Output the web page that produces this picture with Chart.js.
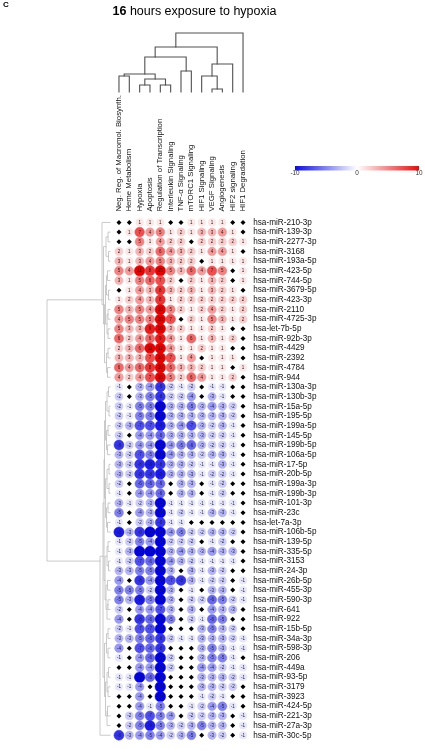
<!DOCTYPE html>
<html>
<head>
<meta charset="utf-8">
<script src="https://cdn.jsdelivr.net/npm/chart.js@4.4.0/dist/chart.umd.min.js"></script>
<style>
html, body { margin: 0; padding: 0; background: #fff; }
#wadah { position: relative; width: 426px; height: 750px; }
#grafik { position: absolute; left: 0; top: 0; }
#panel { position: absolute; left: 3px; top: 1px; font: bold 8px/8px "Liberation Sans", Arial, sans-serif; }
#judul { position: absolute; left: 0; width: 389px; top: 4px; text-align: center; font: 12.5px/14px "Liberation Sans", Arial, sans-serif; }
</style>
</head>
<body>
<div id="wadah">
  <canvas id="grafik" width="426" height="750"></canvas>
  <div id="panel">C</div>
  <div id="judul"><b>16</b> hours exposure to hypoxia</div>
</div>
<script>
const colLabels = ['Neg. Reg. of Macromol. Biosynth.', 'Heme Metabolism', 'Hypoxia', 'Apoptosis',
  'Regulation of Transcription', 'Interleukin Signaling', 'TNF-\u03b1 Signaling', 'mTORC1 Signaling',
  'HIF1 Signaling', 'VEGF Signaling', 'Angiogenesis', 'HIF2 signaling', 'HIF1 Degradation'];

const rowLabels = ['hsa-miR-210-3p', 'hsa-miR-139-3p', 'hsa-miR-2277-3p', 'hsa-miR-3168', 'hsa-miR-193a-5p',
  'hsa-miR-423-5p', 'hsa-miR-744-5p', 'hsa-miR-3679-5p', 'hsa-miR-423-3p', 'hsa-miR-2110', 'hsa-miR-4725-3p',
  'hsa-let-7b-5p', 'hsa-miR-92b-3p', 'hsa-miR-4429', 'hsa-miR-2392', 'hsa-miR-4784', 'hsa-miR-944',
  'hsa-miR-130a-3p', 'hsa-miR-130b-3p', 'hsa-miR-15a-5p', 'hsa-miR-195-5p', 'hsa-miR-199a-5p', 'hsa-miR-145-5p',
  'hsa-miR-199b-5p', 'hsa-miR-106a-5p', 'hsa-miR-17-5p', 'hsa-miR-20b-5p', 'hsa-miR-199a-3p', 'hsa-miR-199b-3p',
  'hsa-miR-101-3p', 'hsa-miR-23c', 'hsa-let-7a-3p', 'hsa-miR-106b-5p', 'hsa-miR-139-5p', 'hsa-miR-335-5p',
  'hsa-miR-3153', 'hsa-miR-24-3p', 'hsa-miR-26b-5p', 'hsa-miR-455-3p', 'hsa-miR-590-3p', 'hsa-miR-641',
  'hsa-miR-922', 'hsa-miR-15b-5p', 'hsa-miR-34a-3p', 'hsa-miR-598-3p', 'hsa-miR-206', 'hsa-miR-449a',
  'hsa-miR-93-5p', 'hsa-miR-3179', 'hsa-miR-3923', 'hsa-miR-424-5p', 'hsa-miR-221-3p', 'hsa-miR-27a-3p',
  'hsa-miR-30c-5p'];

// null = no value (black diamond)
const N = null;
const nilai = [
  [N, N, 1, 1, 1, N, N, 1, 1, 1, 1, N, N],
  [N, 1, 7, 4, 5, 1, 2, 1, 3, 3, 4, 1, N],
  [N, N, 5, 1, 4, 2, 2, N, 2, 2, 2, 2, 1],
  [2, 1, 3, 2, 6, 4, 3, 2, 1, 4, 4, 1, N],
  [3, 1, 3, 4, 5, 3, 2, 2, N, 1, 1, 1, 1],
  [5, 4, 11, 8, 15, 5, 3, 6, 4, 7, 5, N, 1],
  [3, 1, 5, 6, 7, 2, N, 2, 1, 3, 2, N, 1],
  [N, 1, 4, 3, 8, 3, 2, 3, 1, 3, 2, 1, N],
  [1, 2, 4, 3, 8, 1, 2, 2, 2, 2, 2, 2, 2],
  [5, 3, 5, 4, 10, 5, 2, 1, 2, 4, 2, 1, 2],
  [4, 5, 5, 5, 20, 7, N, 2, 1, 5, 3, 1, 2],
  [5, 3, 3, 9, 10, 3, 2, 1, 1, 2, 1, N, N],
  [6, 2, 4, 6, 9, 4, 1, 6, 1, 3, 1, 2, N],
  [2, 3, 6, 11, 12, 4, 1, 1, 2, 1, 1, N, N],
  [3, 3, 3, 7, 10, 7, 1, 4, N, 1, 1, 1, N],
  [6, 4, 6, 8, 20, 6, 3, 3, 2, 1, 1, N, 1],
  [4, 2, 4, 7, 10, 5, 2, 6, 4, 1, 1, 2, N],
  [-1, N, -3, -4, -8, -2, -1, -2, N, -1, -1, N, N],
  [-2, N, -3, -5, -8, -2, -2, -4, N, -3, -1, N, N],
  [-2, -1, -5, -5, -10, -3, -3, -5, -3, -4, -3, -2, N],
  [-2, -1, -5, -5, -10, -3, -3, -3, -3, -3, -3, -2, N],
  [-2, -3, -7, -7, -9, -3, -4, -7, -3, -2, -3, -1, N],
  [-2, N, -4, -4, -6, -3, -3, -3, -3, -2, -2, -1, N],
  [-8, -2, -4, -4, -10, -4, -5, -6, -3, -2, -2, -1, N],
  [-3, -2, -7, -5, -10, -4, -3, -3, -2, -3, -3, -1, N],
  [-3, -2, -8, -9, -8, -3, -3, -2, -1, -1, -3, -1, N],
  [-3, -2, -8, -8, -9, -3, -3, -3, -1, -2, -2, -1, N],
  [-2, N, -6, -6, -6, N, -3, -3, N, -1, -2, N, N],
  [-1, N, -4, -4, -6, N, -3, -3, N, -1, -2, N, N],
  [-3, -1, -2, -3, -10, -1, -1, -1, -1, -1, -1, -1, N],
  [-5, N, -4, -3, -10, -1, -2, -1, -1, -3, -3, -1, N],
  [-1, N, -2, -3, -8, -1, -1, N, N, N, N, N, N],
  [-9, -3, -8, -10, -10, -4, -5, -2, -2, -3, -3, -2, N],
  [-1, -2, -5, -4, -10, -2, -2, -2, N, -1, -2, N, N],
  [-1, -3, -10, -10, -10, -3, -4, -3, -3, -4, -3, -3, N],
  [-1, -2, -7, -6, -10, -4, -3, -2, -1, -1, -1, -1, N],
  [-3, -3, -5, -5, -10, -3, N, -3, -1, -3, -2, N, N],
  [-4, N, -8, -4, -10, -7, -8, -3, -1, -2, -2, N, -1],
  [-5, -5, -5, -2, -10, -3, N, -1, N, -3, -3, N, -1],
  [-5, -3, -9, -5, -10, -3, N, -2, -2, -6, -5, -2, -1],
  [-2, N, -4, -4, -7, -3, N, -3, N, -4, -3, -3, N],
  [-4, N, -8, -6, -10, -5, N, -2, -1, -6, -5, N, N],
  [-2, -1, -7, -7, -10, N, N, N, -3, -5, -3, -2, N],
  [-3, -3, -5, -6, -8, -2, -1, -1, -3, -3, -3, -2, -1],
  [-4, N, -7, -6, -8, N, N, N, -3, -5, -3, -1, -1],
  [-1, N, -4, -6, -10, -2, N, N, -3, -5, -5, -1, N],
  [N, N, -4, -4, -10, -2, N, N, -4, -4, -2, -1, -1],
  [-1, -1, -10, -6, -10, N, N, N, -3, -3, -3, -2, -1],
  [-1, -1, -4, N, -10, N, N, N, -3, -3, -2, -2, N],
  [N, N, -4, N, -10, N, N, N, -1, -2, -1, N, N],
  [N, N, -4, -1, -5, N, N, -1, -2, -4, -5, -1, N],
  [N, -2, -5, -7, -5, -4, N, -2, -2, -3, -3, N, -1],
  [N, -2, -5, -9, -5, -3, -2, -3, -5, -3, -3, N, -1],
  [-8, -3, -4, -5, -4, -2, -3, -5, N, -3, -2, N, -1]
];

// dendrograms: [child a, child b, height]; leaves are 0..n-1, merge k gets id n+k
const kolomGabung = [
  [0, 1, 16], [2, 3, 7], [4, 5, 7], [14, 15, 13], [13, 16, 18], [6, 7, 21],
  [17, 18, 35], [9, 10, 3], [8, 20, 16], [21, 11, 28], [19, 22, 45], [23, 12, 59]
];
const barisGabung = [
  // up-regulated group
  [1, 2, 2], [3, 4, 1.5], [54, 55, 4], [5, 6, 2.5], [7, 8, 1.5], [57, 58, 3.5],
  [9, 10, 2], [11, 12, 2], [60, 61, 3], [13, 14, 2], [15, 16, 2.5], [63, 64, 3.5],
  [59, 62, 4.5], [66, 65, 5.5], [56, 67, 6.5], [0, 68, 8],
  // down-regulated group
  [17, 18, 1.5], [19, 20, 1], [70, 71, 3], [21, 22, 2], [23, 24, 2.5], [73, 74, 3.5],
  [72, 75, 4.5], [25, 26, 1], [27, 28, 1], [77, 78, 3], [29, 30, 2], [31, 32, 2.5],
  [80, 81, 3.5], [79, 82, 4.5], [33, 34, 2], [35, 36, 1.5], [84, 85, 3], [37, 38, 2.5],
  [39, 40, 2], [88, 41, 3], [87, 89, 4], [86, 90, 5], [76, 83, 5.5], [92, 91, 6],
  [42, 43, 2], [44, 45, 2], [94, 95, 3.5], [46, 47, 1.5], [48, 49, 2], [97, 98, 3],
  [50, 51, 2.5], [100, 52, 3], [99, 101, 4.5], [96, 102, 5.5], [93, 103, 7], [104, 53, 10],
  // root
  [69, 105, 63]
];

const skalaTicks = ['-10', '0', '10'];

function warnaNilai(v) {
  const t = Math.min(Math.abs(v), 10) / 10;
  const lain = Math.round(255 * (1 - t));
  const utama = Math.round(255 - 20 * t);
  return v > 0 ? `rgb(${utama},${lain},${lain})` : `rgb(${lain},${lain},${utama})`;
}

function jariJari(v) {
  return 3.7 + 1.6 * Math.min(Math.abs(v), 10) / 10;
}

const titikNilai = [];
const titikKosong = [];
nilai.forEach((baris, i) => {
  baris.forEach((v, j) => {
    if (v === null) titikKosong.push({ x: colLabels[j], y: rowLabels[i] });
    else titikNilai.push({ x: colLabels[j], y: rowLabels[i], v: v });
  });
});

// node sits at the centre of the span of its leaves
function gambarPohon(ctx, gabung, nDaun, posDaun, posTinggi, atas) {
  const pos = [], lo = [], hi = [], tinggi = [];
  for (let i = 0; i < nDaun; i++) { pos[i] = lo[i] = hi[i] = posDaun(i); tinggi[i] = 0; }
  gabung.forEach(([a, b, h], k) => {
    const id = nDaun + k;
    lo[id] = Math.min(lo[a], lo[b]);
    hi[id] = Math.max(hi[a], hi[b]);
    pos[id] = (lo[id] + hi[id]) / 2;
    tinggi[id] = h;
    const ta = posTinggi(tinggi[a]), tb = posTinggi(tinggi[b]), th = posTinggi(h);
    ctx.beginPath();
    if (atas) {
      ctx.moveTo(pos[a], ta); ctx.lineTo(pos[a], th); ctx.lineTo(pos[b], th); ctx.lineTo(pos[b], tb);
    } else {
      ctx.moveTo(ta, pos[a]); ctx.lineTo(th, pos[a]); ctx.lineTo(th, pos[b]); ctx.lineTo(tb, pos[b]);
    }
    ctx.stroke();
  });
}

const hiasan = {
  id: 'hiasan',
  afterDatasetsDraw(chart) {
    const ctx = chart.ctx;
    const meta = chart.getDatasetMeta(0);
    ctx.save();
    ctx.font = '4.5px "Liberation Sans", Arial, sans-serif';
    ctx.fillStyle = '#222';
    ctx.textAlign = 'center';
    ctx.textBaseline = 'middle';
    meta.data.forEach((el, k) => {
      ctx.fillText(String(titikNilai[k].v), el.x, el.y + 0.3);
    });
    ctx.restore();
  },
  afterDraw(chart) {
    const ctx = chart.ctx;
    const sx = chart.scales.x, sy = chart.scales.y;
    ctx.save();
    ctx.lineCap = 'square';
    // column dendrogram
    ctx.strokeStyle = '#505050';
    ctx.lineWidth = 1.1;
    gambarPohon(ctx, kolomGabung, colLabels.length, j => sx.getPixelForValue(j), h => 92 - h, true);
    // row dendrogram
    ctx.strokeStyle = '#bdbdbd';
    ctx.lineWidth = 0.8;
    gambarPohon(ctx, barisGabung, rowLabels.length, i => sy.getPixelForValue(i), h => 110 - h, false);

    // colour key
    const x0 = 295, x1 = 419, y0 = 166, y1 = 170.5;
    const grad = ctx.createLinearGradient(x0, 0, x1, 0);
    grad.addColorStop(0, 'rgb(10,10,235)');
    grad.addColorStop(0.5, 'rgb(255,255,255)');
    grad.addColorStop(1, 'rgb(235,10,10)');
    ctx.fillStyle = grad;
    ctx.fillRect(x0, y0, x1 - x0, y1 - y0);
    ctx.font = '6.4px "Liberation Sans", Arial, sans-serif';
    ctx.fillStyle = '#333';
    ctx.textAlign = 'center';
    ctx.textBaseline = 'middle';
    skalaTicks.forEach((t, k) => {
      ctx.fillText(t, x0 + (x1 - x0) * k / (skalaTicks.length - 1), 173);
    });
    ctx.restore();
  }
};

const ctx = document.getElementById('grafik').getContext('2d');
const grafik = new Chart(ctx, {
  type: 'scatter',
  data: {
    datasets: [{
      data: titikNilai,
      pointStyle: 'circle',
      pointRadius: c => jariJari(c.raw.v),
      backgroundColor: c => warnaNilai(c.raw.v),
      borderColor: c => warnaNilai(c.raw.v),
      borderWidth: 0.5
    }, {
      data: titikKosong,
      pointStyle: 'rectRot',
      pointRadius: 2.5,
      backgroundColor: '#000',
      borderColor: '#000',
      borderWidth: 0
    }]
  },
  options: {
    responsive: false,
    animation: false,
    events: [],
    layout: { padding: { left: 113.8, right: 0, top: 0, bottom: 4.6 } },
    plugins: { legend: { display: false }, tooltip: { enabled: false } },
    scales: {
      x: {
        type: 'category',
        labels: colLabels,
        position: 'top',
        offset: true,
        grid: { display: false, drawTicks: false },
        border: { display: false },
        ticks: {
          autoSkip: false, minRotation: 90, maxRotation: 90, padding: 6, labelOffset: 9.2, color: '#111',
          font: { family: '"Liberation Sans", Arial, sans-serif', size: 7.8 }
        },
        afterFit: s => { s.height = 217.6; }
      },
      y: {
        type: 'category',
        labels: rowLabels,
        position: 'right',
        offset: true,
        grid: { display: false, drawTicks: false },
        border: { display: false },
        ticks: {
          autoSkip: false, padding: 5, color: '#111',
          font: { family: '"Liberation Sans", Arial, sans-serif', size: 8.2 }
        },
        afterFit: s => { s.width = 426 - 248.2; }
      }
    }
  },
  plugins: [hiasan]
});
</script>
</body>
</html>
